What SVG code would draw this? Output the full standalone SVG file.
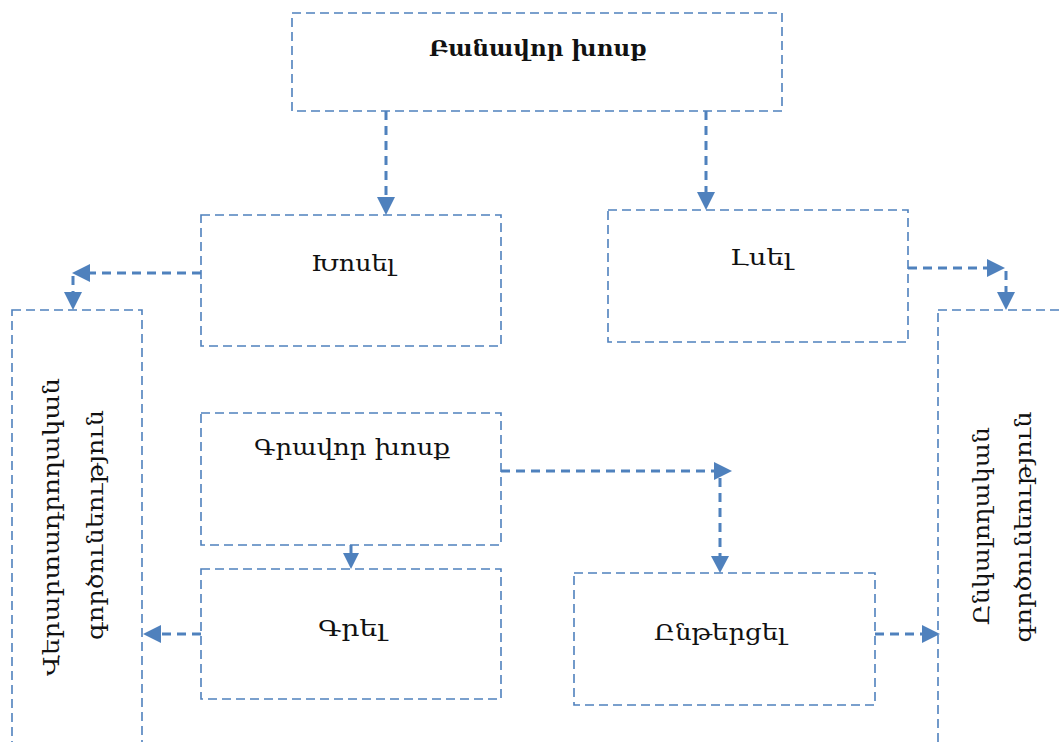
<svg xmlns="http://www.w3.org/2000/svg" width="1062" height="742" viewBox="0 0 1062 742">
<style>
.box{fill:#fff;stroke:#4f81bd;stroke-width:1.6;stroke-dasharray:9 5}
.con{fill:none;stroke:#4f81bd;stroke-width:3;stroke-dasharray:9 6}
.ah{fill:#4f81bd;stroke:none}
.t{font-family:"DejaVu Serif","DejaVu Sans",serif;font-size:23px;fill:#111;text-anchor:middle}
.b{font-weight:bold}
</style>
<rect width="1062" height="742" fill="#fff"/>
<g id="n-banavor">
<rect class="box" x="292" y="13" width="490" height="98"/>
<text class="t b" x="538" y="56" textLength="218" lengthAdjust="spacingAndGlyphs">Բանավոր խոսք</text>
</g>
<g id="n-khosel">
<rect class="box" x="201" y="215" width="300" height="131"/>
<text class="t" x="353" y="271" textLength="84" lengthAdjust="spacingAndGlyphs">Խոսել</text>
</g>
<g id="n-lsel">
<rect class="box" x="608" y="210" width="300" height="132"/>
<text class="t" x="761" y="265" textLength="62" lengthAdjust="spacingAndGlyphs">Լսել</text>
</g>
<g id="n-left">
<rect class="box" x="12" y="310" width="130" height="440"/>
<text class="t" transform="translate(59,527) rotate(-90)" textLength="298" lengthAdjust="spacingAndGlyphs">Վերարտադրողական</text>
<text class="t" transform="translate(103,525) rotate(-90)" textLength="230" lengthAdjust="spacingAndGlyphs">գործունեություն</text>
</g>
<g id="n-right">
<rect class="box" x="938" y="310" width="140" height="440"/>
<text class="t" transform="translate(989,526) rotate(-90)" textLength="198" lengthAdjust="spacingAndGlyphs">Ընկալողական</text>
<text class="t" transform="translate(1031,527) rotate(-90)" textLength="231" lengthAdjust="spacingAndGlyphs">գործունեություն</text>
</g>
<g id="n-gravor">
<rect class="box" x="201" y="413" width="300" height="132"/>
<text class="t" x="352" y="455" textLength="196" lengthAdjust="spacingAndGlyphs">Գրավոր խոսք</text>
</g>
<g id="n-grel">
<rect class="box" x="201" y="569" width="300" height="130"/>
<text class="t" x="352" y="636" textLength="68" lengthAdjust="spacingAndGlyphs">Գրել</text>
</g>
<g id="n-ntercel">
<rect class="box" x="574" y="573" width="301" height="132"/>
<text class="t" x="720" y="640" textLength="132" lengthAdjust="spacingAndGlyphs">Ընթերցել</text>
</g>
<g id="connectors">
<path class="con" d="M386 111 V200"/>
<polygon class="ah" points="377,197 395,197 386,215"/>
<path class="con" d="M706 111 V195"/>
<polygon class="ah" points="697,192 715,192 706,210"/>
<path class="con" d="M201 273 H88"/>
<polygon class="ah" points="90,264 90,282 72,273"/>
<path class="con" d="M73 276 V294"/>
<polygon class="ah" points="64,292 82,292 73,310"/>
<path class="con" d="M908 268 H990"/>
<polygon class="ah" points="987,259 987,277 1005,268"/>
<path class="con" d="M1006 271 V294"/>
<polygon class="ah" points="997,292 1015,292 1006,310"/>
<path class="con" d="M351 545 V556"/>
<polygon class="ah" points="343,553 359,553 351,569"/>
<path class="con" d="M501 471 H716"/>
<polygon class="ah" points="714,462 714,480 732,471"/>
<path class="con" d="M720 478 V558"/>
<polygon class="ah" points="711,556 729,556 720,573"/>
<path class="con" d="M201 634 H160"/>
<polygon class="ah" points="161,625 161,643 143,634"/>
<path class="con" d="M875 634 H925"/>
<polygon class="ah" points="922,625 922,643 940,634"/>
</g>
</svg>
